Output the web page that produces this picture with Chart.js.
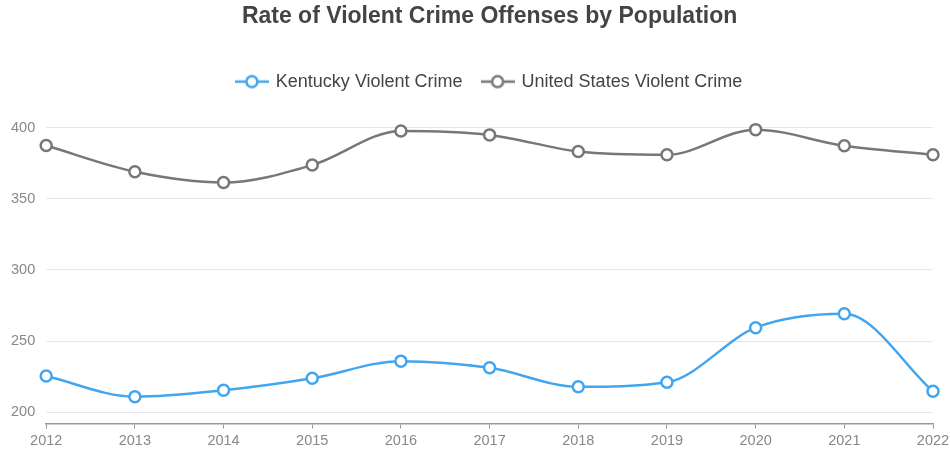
<!DOCTYPE html>
<html>
<head>
<meta charset="utf-8">
<script src="https://cdn.jsdelivr.net/npm/chart.js@4"></script>
<style>
  html, body { margin: 0; padding: 0; background: #fff; }
  #wrap { width: 950px; height: 450px; }
</style>
</head>
<body>
<div id="wrap"><canvas id="c" width="950" height="450"></canvas></div>
<script>
const years = ["2012","2013","2014","2015","2016","2017","2018","2019","2020","2021","2022"];
const kentucky = [225.4, 210.9, 215.4, 223.8, 235.9, 231.2, 217.9, 221.0, 259.4, 269.2, 214.7];
const unitedStates = [387.4, 369.0, 361.5, 373.7, 397.7, 394.9, 383.2, 380.9, 398.6, 387.2, 380.9];
const yTickValues = [200, 250, 300, 350, 400];

const KY_COLOR = '#42a5f0';
const US_COLOR = '#777777';
const FONT = 'Liberation Sans, Arial, Helvetica, sans-serif';

function legendIcon(color) {
  const c = document.createElement('canvas');
  const w = 34, h = 16;
  c.width = w; c.height = h;
  const ctx = c.getContext('2d');
  ctx.strokeStyle = color;
  ctx.lineWidth = 2.5;
  ctx.beginPath();
  ctx.moveTo(0, h/2); ctx.lineTo(w, h/2);
  ctx.stroke();
  ctx.beginPath();
  ctx.arc(w/2, h/2, 5.5, 0, Math.PI*2);
  ctx.fillStyle = '#fff';
  ctx.fill();
  ctx.stroke();
  return c;
}

new Chart(document.getElementById('c'), {
  type: 'line',
  data: {
    labels: years,
    datasets: [
      {
        label: 'Kentucky Violent Crime',
        data: kentucky,
        borderColor: KY_COLOR,
        backgroundColor: '#fff',
        pointBackgroundColor: '#fff',
        pointBorderColor: KY_COLOR,
        pointBorderWidth: 2.5,
        pointRadius: 5.5,
        borderWidth: 2.5,
        cubicInterpolationMode: 'monotone',
        fill: false
      },
      {
        label: 'United States Violent Crime',
        data: unitedStates,
        borderColor: US_COLOR,
        backgroundColor: '#fff',
        pointBackgroundColor: '#fff',
        pointBorderColor: US_COLOR,
        pointBorderWidth: 2.5,
        pointRadius: 5.5,
        borderWidth: 2.5,
        cubicInterpolationMode: 'monotone',
        fill: false
      }
    ]
  },
  options: {
    responsive: false,
    animation: false,
    layout: { autoPadding: false, padding: { left: 0, right: 17, top: 2, bottom: -4 } },
    plugins: {
      title: {
        display: true,
        fullSize: false,
        text: 'Rate of Violent Crime Offenses by Population',
        color: '#444',
        font: { family: FONT, size: 23, weight: 'bold' },
        padding: { top: 1, bottom: 22 }
      },
      legend: {
        fullSize: false,
        labels: {
          color: '#444',
          font: { family: FONT, size: 18 },
          usePointStyle: true,
          pointStyleWidth: 30,
          boxWidth: 30,
          boxHeight: 16,
          padding: 20,
          generateLabels(chart) {
            return chart.data.datasets.map((ds, i) => ({
              text: ds.label,
              fontColor: '#444',
              pointStyle: legendIcon(ds.borderColor),
              hidden: !chart.isDatasetVisible(i),
              datasetIndex: i,
              lineWidth: 0,
              strokeStyle: 'transparent',
              fillStyle: 'transparent'
            }));
          }
        }
      },
      tooltip: { enabled: false }
    },
    scales: {
      x: {
        offset: false,
        afterFit(scale) { scale.paddingRight = 0; },
        grid: {
          display: true,
          drawOnChartArea: false,
          drawTicks: true,
          tickLength: 5,
          color: '#999'
        },
        border: { display: true, color: '#999', width: 1.5 },
        ticks: {
          color: '#888',
          font: { family: FONT, size: 14.5 },
          maxRotation: 0,
          autoSkip: false,
          padding: 4
        }
      },
      y: {
        min: 192,
        max: 419,
        afterBuildTicks(axis) {
          axis.ticks = yTickValues.map(v => ({ value: v }));
        },
        grid: {
          color: '#e6e6f2',
          drawTicks: false
        },
        border: { display: false },
        ticks: {
          color: '#888',
          font: { family: FONT, size: 14.5 },
          padding: 11
        }
      }
    }
  }
});
</script>
</body>
</html>
